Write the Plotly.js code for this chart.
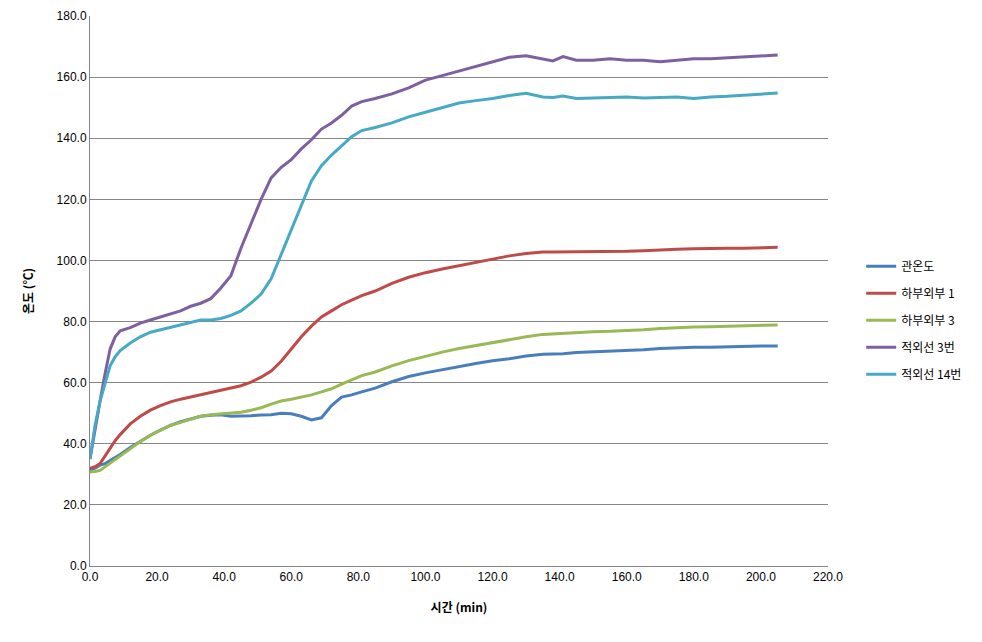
<!DOCTYPE html>
<html><head><meta charset="utf-8">
<script src="https://cdn.plot.ly/plotly-3.0.1.min.js"></script>
<style>body{margin:0;background:#fff}#c{width:982px;height:642px}</style>
</head><body><div id="c"></div>
<script>
const time = [0,1.5,3,4.5,6,7.5,9,12,15,18,21,24,27,30,33,36,39,42,45,48,51,54,57,60,63,66,69,72,75,78,81,85,90,95,100,105,110,115,120,125,130,135,138,141,145,150,155,160,165,170,175,180,185,190,195,200,205];
const pipeTemp = [31.3,32,33,33.5,34.5,35.5,36.5,38.8,40.8,42.8,44.5,46,47.2,48.2,49,49.3,49.5,49,49,49.2,49.4,49.5,50,49.8,49,47.8,48.5,52.5,55.3,56,57,58.2,60.3,62,63.2,64.3,65.3,66.3,67.2,67.8,68.7,69.3,69.4,69.5,69.9,70.1,70.3,70.5,70.8,71.2,71.5,71.6,71.6,71.8,71.9,72,72];
const bottom1 = [32,32.5,33.5,36,38.5,41,43,46.5,49,51,52.5,53.7,54.6,55.4,56,56.8,57.5,58.2,59,60.2,61.8,63.8,67,71,75,78.5,81.5,83.5,85.5,87,88.5,90,92.5,94.5,96,97.2,98.3,99.5,100.5,101.5,102.3,102.8,102.8,102.8,102.8,102.8,103,103,103.2,103.5,103.7,103.8,104,104,104,104.2,104.3];
const bottom3 = [30.8,30.9,31.3,32.5,33.8,35,36,38.5,40.7,42.8,44.5,46,47,48,49,49.5,49.8,50,50.3,51,51.8,53,54,54.6,55.2,56,57,58,59.5,61,62.3,63.5,65.5,67.2,68.7,70,71.2,72.2,73.2,74.2,75,75.8,76,76.2,76.5,76.7,76.8,77,77.3,77.7,78,78.2,78.3,78.4,78.6,78.8,78.9];
const ir3 = [35,45,54,63,71,75,77,78,79.5,80.5,81.5,82.5,83.5,85,86,87.5,91,95,104,112,120,127,130.5,133,136.5,139.5,143,145,147.5,150.5,152,153,154.5,156.5,159,160.5,162,163.5,165,166.5,167,166,165.3,166.7,165.5,165.5,166,165.5,165.5,165,165.5,166,166,166.3,166.5,167,167.2];
const ir14 = [35,46,54,60,65.5,68.5,70.5,73,75,76.5,77.3,78,79,79.8,80.5,80.5,81,82,83.5,86,89,94,102,110,118.5,126,131,134.5,137.5,140.5,142.5,143.5,145,147,148.5,150,151.5,152.3,153,154,154.7,153.5,153.3,153.8,153,153.2,153.3,153.5,153.2,153.3,153.5,153,153.5,153.7,154,154.5,154.8];
const names = ['관온도','하부외부 1','하부외부 3','적외선 3번','적외선 14번'];
const series = [pipeTemp,bottom1,bottom3,ir3,ir14];
const colors = ['#4A7EBB','#BE4B48','#98B954','#7D60A0','#46AAC5'];
const traces = series.map((s,i)=>({x:time,y:s,name:names[i],type:'scatter',mode:'lines',
  legendgroup:'g'+i,line:{color:colors[i],width:3}}));
const font = "Liberation Sans, Arial, Noto Sans CJK KR, sans-serif";
const layout = {
  width:982,height:642,margin:{l:90,r:154,t:16,b:76},
  paper_bgcolor:'#fff',plot_bgcolor:'#fff',
  font:{family:font,size:12,color:'#000'},
  showlegend:true,
  legend:{x:1.045,y:0.447,xanchor:'left',yanchor:'middle',tracegroupgap:8,itemwidth:30,
    font:{family:"Noto Sans CJK KR, sans-serif",size:12,color:'#000'}},
  xaxis:{range:[0,220],tick0:0,dtick:20,tickformat:'.1f',showgrid:false,zeroline:false,
    showline:true,linecolor:'#868686',linewidth:1,ticks:'',
    title:{text:'<b>시간 (min)</b>',font:{family:"Noto Sans CJK KR, sans-serif",size:12},standoff:20}},
  yaxis:{range:[0,180],tick0:0,dtick:20,tickformat:'.1f',showgrid:true,gridcolor:'#868686',gridwidth:1,
    zeroline:false,showline:true,linecolor:'#868686',linewidth:1,ticks:'',
    title:{text:'<b>온도 (℃)</b>',font:{family:"Noto Sans CJK KR, sans-serif",size:12},standoff:20}}
};
Plotly.newPlot('c',traces,layout,{displayModeBar:false});
</script></body></html>
